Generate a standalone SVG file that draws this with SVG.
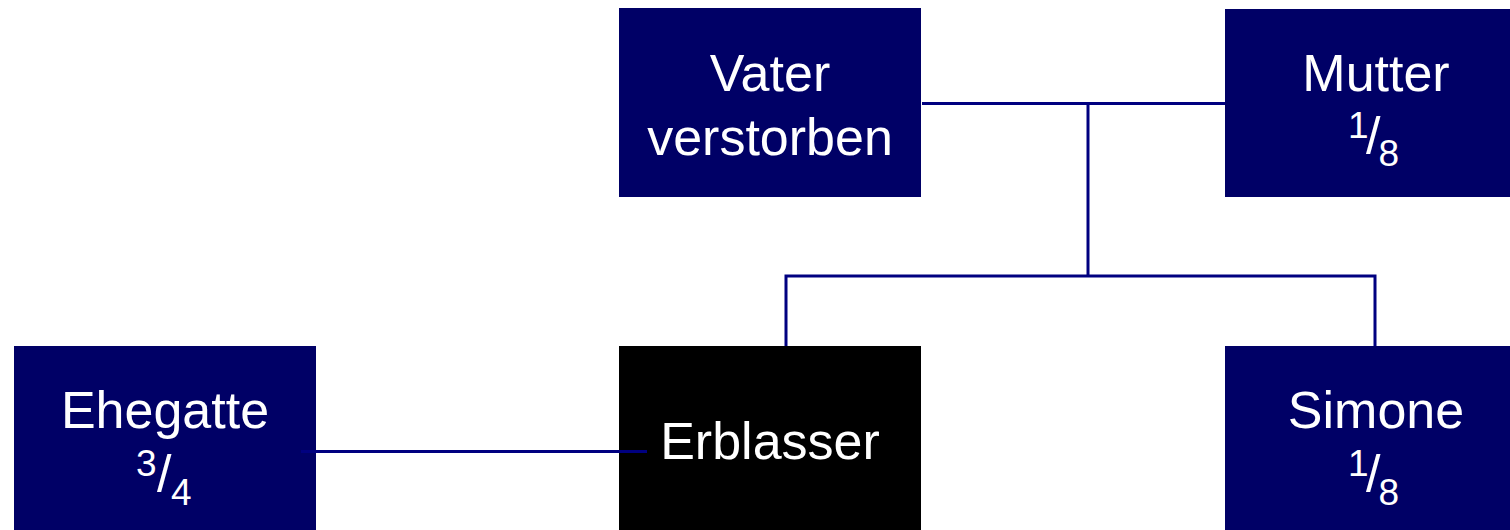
<svg xmlns="http://www.w3.org/2000/svg" width="1510" height="530" viewBox="0 0 1510 530">
  <style>
    .box { fill: #000066; }
    .self { fill: #000000; }
    .label { fill: #ffffff; font-family: "Liberation Sans", Arial, sans-serif; font-size: 52px; }
    .mid { text-anchor: middle; }
    .frac { font-size: 37px; }
    .link { stroke: #000080; stroke-width: 3; fill: none; }
  </style>

  <!-- family tree nodes -->
  <g id="vater">
    <rect class="box" x="619" y="8" width="302" height="189"/>
    <text class="label mid" x="770" y="91">Vater</text>
    <text class="label mid" x="770" y="155">verstorben</text>
  </g>

  <g id="mutter">
    <rect class="box" x="1225" y="9" width="302" height="188"/>
    <text class="label mid" x="1376" y="91">Mutter</text>
    <text class="label"><tspan class="frac" x="1348" y="138">1</tspan><tspan x="1366" y="154">/</tspan><tspan class="frac" x="1378.5" y="166">8</tspan></text>
  </g>

  <g id="ehegatte">
    <rect class="box" x="14" y="346" width="302" height="184"/>
    <text class="label mid" x="165" y="428">Ehegatte</text>
    <text class="label"><tspan class="frac" x="136" y="476">3</tspan><tspan x="157" y="492">/</tspan><tspan class="frac" x="171" y="505">4</tspan></text>
  </g>

  <g id="erblasser">
    <rect class="self" x="619" y="346" width="302" height="184"/>
    <text class="label mid" x="770" y="459">Erblasser</text>
  </g>

  <g id="simone">
    <rect class="box" x="1225" y="346" width="302" height="184"/>
    <text class="label mid" x="1376" y="428">Simone</text>
    <text class="label"><tspan class="frac" x="1348" y="476">1</tspan><tspan x="1366" y="492">/</tspan><tspan class="frac" x="1378.5" y="505">8</tspan></text>
  </g>

  <!-- connectors -->
  <g id="connectors">
    <line class="link" x1="922" y1="103.5" x2="1225" y2="103.5"/>
    <line class="link" x1="1088" y1="103.5" x2="1088" y2="276"/>
    <polyline class="link" points="786,346 786,276 1375,276 1375,346"/>
    <line class="link" x1="301" y1="451.5" x2="647" y2="451.5"/>
  </g>
</svg>
